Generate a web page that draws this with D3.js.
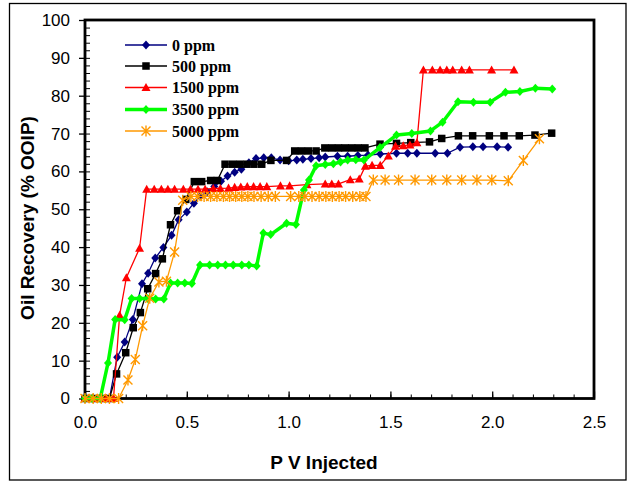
<!DOCTYPE html>
<html>
<head>
<meta charset="utf-8">
<script src="https://cdn.jsdelivr.net/npm/d3@7"></script>
<style>
  html, body { margin: 0; padding: 0; background: #fff; }
  svg { display: block; }
</style>
</head>
<body>
<svg id="chart" width="629" height="483"></svg>
<script>
// Oil recovery vs. pore volumes injected, one series per polymer concentration
const seriesNames = ["0 ppm", "500 ppm", "1500 ppm", "3500 ppm", "5000 ppm"];

const ppm0 = [[0,0],[0.04,0],[0.08,0],[0.12,0],[0.158,10.9],[0.195,14.9],[0.235,20.9],[0.28,30.3],[0.31,33.1],[0.345,37.1],[0.385,39.9],[0.425,43.1],[0.46,47.2],[0.5,49.3],[0.535,51.6],[0.567,53.5],[0.6,54.6],[0.635,56.0],[0.668,57.4],[0.7,58.8],[0.735,59.8],[0.768,60.6],[0.805,62.3],[0.84,63.4],[0.878,63.6],[0.915,63.6],[0.958,63.0],[1.0,62.8],[1.04,63.0],[1.07,63.2],[1.11,63.4],[1.15,63.6],[1.18,63.8],[1.24,64.0],[1.29,64.0],[1.34,64.2],[1.39,64.3],[1.45,64.6],[1.53,64.8],[1.585,64.8],[1.63,64.8],[1.72,64.8],[1.78,64.8],[1.842,66.4],[1.905,66.5],[1.955,66.5],[2.024,66.5],[2.078,66.4]];

const ppm500 = [[0,0],[0.04,0],[0.08,0],[0.12,0],[0.155,6.5],[0.2,12.1],[0.237,18.7],[0.272,22.7],[0.308,29.0],[0.347,33.0],[0.38,36.9],[0.42,45.9],[0.455,49.6],[0.495,52.6],[0.537,57.3],[0.573,57.3],[0.617,57.6],[0.65,57.6],[0.688,61.9],[0.725,61.9],[0.76,61.9],[0.795,61.9],[0.83,61.9],[0.868,61.9],[0.913,62.9],[0.99,62.9],[1.03,65.4],[1.063,65.4],[1.097,65.4],[1.135,65.4],[1.178,66.2],[1.212,66.2],[1.245,66.2],[1.277,66.2],[1.31,66.2],[1.342,66.2],[1.375,66.2],[1.449,67.2],[1.53,67.4],[1.6,67.6],[1.692,67.8],[1.752,68.7],[1.834,69.4],[1.904,69.4],[1.986,69.4],[2.058,69.4],[2.133,69.4],[2.21,69.6],[2.292,70.1]];

const ppm1500 = [[0,0],[0.035,0],[0.07,0],[0.105,0],[0.14,0],[0.17,22.0],[0.203,31.9],[0.268,39.7],[0.303,55.3],[0.34,55.3],[0.375,55.3],[0.407,55.3],[0.44,55.3],[0.483,55.3],[0.518,55.3],[0.555,55.3],[0.59,55.3],[0.63,55.5],[0.665,55.5],[0.705,55.6],[0.735,55.8],[0.765,55.9],[0.797,56.0],[0.828,56.0],[0.86,56.0],[0.893,56.0],[0.96,56.2],[1.005,56.2],[1.09,56.5],[1.18,56.7],[1.212,56.7],[1.245,56.7],[1.303,57.8],[1.347,58.0],[1.377,61.4],[1.41,61.6],[1.45,61.6],[1.49,64.1],[1.525,66.7],[1.563,66.8],[1.596,67.0],[1.63,67.6],[1.662,86.8],[1.706,86.8],[1.744,86.8],[1.777,86.8],[1.806,86.8],[1.85,86.8],[1.888,86.8],[1.997,86.8],[2.107,86.8]];

const ppm3500 = [[0,0],[0.035,0],[0.075,0],[0.113,9.4],[0.148,20.9],[0.195,20.8],[0.229,26.4],[0.268,26.4],[0.308,26.4],[0.347,26.3],[0.387,26.3],[0.42,30.5],[0.455,30.5],[0.49,30.5],[0.525,30.4],[0.565,35.3],[0.612,35.3],[0.652,35.3],[0.69,35.3],[0.728,35.3],[0.77,35.3],[0.805,35.3],[0.843,35.0],[0.876,43.7],[0.912,43.3],[0.99,46.3],[1.036,46.0],[1.075,55.1],[1.1,57.7],[1.135,61.5],[1.18,61.8],[1.22,62.0],[1.255,62.5],[1.29,63.0],[1.33,63.1],[1.37,63.0],[1.449,66.3],[1.53,69.6],[1.605,70.0],[1.697,70.7],[1.756,73.0],[1.832,78.4],[1.908,78.3],[1.99,78.3],[2.065,80.9],[2.136,81.1],[2.212,82.0],[2.295,81.8]];

const ppm5000 = [[0,0],[0.04,0],[0.08,0],[0.12,0],[0.165,0],[0.211,4.9],[0.247,10.3],[0.283,19.2],[0.318,26.5],[0.363,30.8],[0.4,31.0],[0.44,38.7],[0.48,52.4],[0.52,53.4],[0.553,53.4],[0.585,53.4],[0.617,53.4],[0.648,53.4],[0.68,53.4],[0.71,53.4],[0.74,53.4],[0.77,53.4],[0.8,53.4],[0.83,53.4],[0.865,53.4],[0.9,53.4],[0.935,53.4],[1.01,53.4],[1.05,53.4],[1.08,53.4],[1.115,53.4],[1.15,53.4],[1.183,53.4],[1.215,53.4],[1.248,53.4],[1.28,53.4],[1.315,53.4],[1.35,53.4],[1.38,53.4],[1.416,57.7],[1.474,57.7],[1.54,57.7],[1.621,57.7],[1.703,57.7],[1.777,57.7],[1.85,57.7],[1.925,57.7],[1.998,57.7],[2.079,57.5],[2.153,62.9],[2.232,68.6]];

const xTicks = [0, 0.5, 1.0, 1.5, 2.0, 2.5];
const yTicks = [0, 10, 20, 30, 40, 50, 60, 70, 80, 90, 100];

// per-series appearance
const styles = [
  { color: "#000080", width: 1.3, shape: "diamond", size: 8 },
  { color: "#000000", width: 1.3, shape: "square",  size: 7.5 },
  { color: "#ff0000", width: 1.3, shape: "triangle", size: 9 },
  { color: "#00ff00", width: 3.5, shape: "diamond", size: 8 },
  { color: "#ff9900", width: 1.3, shape: "star",    size: 9 }
];
const allSeries = [ppm0, ppm500, ppm1500, ppm3500, ppm5000];

const svg = d3.select("#chart");
const plotLeft = 85, plotRight = 594, plotTop = 20, plotBottom = 398.5;

// outer chart frame
svg.append("rect").attr("x", 9.5).attr("y", 3.5).attr("width", 616.5).attr("height", 476.5)
  .attr("fill", "#fff").attr("stroke", "#000").attr("stroke-width", 1.3);

const x = d3.scaleLinear().domain([0, 2.5]).range([plotLeft, plotRight]);
const y = d3.scaleLinear().domain([0, 100]).range([plotBottom, plotTop]);

// plot area border
svg.append("rect").attr("x", plotLeft).attr("y", plotTop)
  .attr("width", plotRight - plotLeft).attr("height", plotBottom - plotTop)
  .attr("fill", "none").attr("stroke", "#000").attr("stroke-width", 2.8);

const font = "'Liberation Sans', Arial, sans-serif";

// y axis: major ticks outward with labels, minor ticks inward
const yAxis = svg.append("g").attr("transform", `translate(${plotLeft},0)`)
  .call(d3.axisLeft(y).tickValues(yTicks).tickSize(6).tickPadding(9).tickFormat(d3.format("d")));
yAxis.select(".domain").remove();
yAxis.selectAll("line").attr("stroke", "#000").attr("stroke-width", 1.3);
yAxis.selectAll("text").attr("font-family", font).attr("font-size", 17).attr("fill", "#000");

const yMinor = svg.append("g").attr("transform", `translate(${plotLeft},0)`)
  .call(d3.axisRight(y).tickValues(d3.range(0, 101, 2)).tickSize(5).tickFormat(""));
yMinor.select(".domain").remove();
yMinor.selectAll("line").attr("stroke", "#000").attr("stroke-width", 1);

// x axis: ticks inward, minor every 0.1
const xAxis = svg.append("g").attr("transform", `translate(0,${plotBottom})`)
  .call(d3.axisBottom(x).tickValues(xTicks).tickSize(-7).tickPadding(17).tickFormat(d3.format(".1f")));
xAxis.select(".domain").remove();
xAxis.selectAll("line").attr("stroke", "#000").attr("stroke-width", 1.3);
xAxis.selectAll("text").attr("font-family", font).attr("font-size", 17).attr("fill", "#000");

const xMinor = svg.append("g").attr("transform", `translate(0,${plotBottom})`)
  .call(d3.axisBottom(x).tickValues(d3.range(0, 26).map(i => i / 10)).tickSize(-4).tickFormat(""));
xMinor.select(".domain").remove();
xMinor.selectAll("line").attr("stroke", "#000").attr("stroke-width", 1);

// axis titles
svg.append("text").attr("x", 324).attr("y", 469).attr("text-anchor", "middle")
  .attr("font-family", font).attr("font-weight", "bold").attr("font-size", 19)
  .text("P V Injected");
svg.append("text").attr("transform", "translate(34,218) rotate(-90)").attr("text-anchor", "middle")
  .attr("font-family", font).attr("font-weight", "bold").attr("font-size", 19)
  .text("Oil Recovery (% OOIP)");

// marker builder
function marker(g, st) {
  const r = st.size / 2;
  if (st.shape === "star") {
    g.append("path")
      .attr("d", `M${-r},${-r}L${r},${r}M${-r},${r}L${r},${-r}M0,${-r - 1}L0,${r + 1}`)
      .attr("stroke", st.color).attr("stroke-width", 1.4).attr("fill", "none");
  } else if (st.shape === "diamond") {
    g.append("path").attr("d", `M0,${-r - 0.5}L${r},0L0,${r + 0.5}L${-r},0Z`).attr("fill", st.color);
  } else if (st.shape === "square") {
    g.append("rect").attr("x", -r).attr("y", -r).attr("width", 2 * r).attr("height", 2 * r).attr("fill", st.color);
  } else if (st.shape === "triangle") {
    g.append("path").attr("d", `M0,${-r}L${r},${r * 0.8}L${-r},${r * 0.8}Z`).attr("fill", st.color);
  }
}

const line = d3.line().x(d => x(d[0])).y(d => y(d[1]));

allSeries.forEach((data, i) => {
  const st = styles[i];
  const g = svg.append("g");
  g.append("path").datum(data).attr("d", line)
    .attr("fill", "none").attr("stroke", st.color).attr("stroke-width", st.width)
    .attr("stroke-linejoin", "round");
  data.forEach(d => {
    marker(g.append("g").attr("transform", `translate(${x(d[0])},${y(d[1])})`), st);
  });
});

// legend
const legendY = [45, 66, 87.5, 109.5, 131];
seriesNames.forEach((name, i) => {
  const st = styles[i];
  const g = svg.append("g").attr("transform", `translate(0,${legendY[i]})`);
  g.append("line").attr("x1", 125).attr("x2", 167).attr("y1", 0).attr("y2", 0)
    .attr("stroke", st.color).attr("stroke-width", st.width);
  marker(g.append("g").attr("transform", "translate(146,0)"), st);
  g.append("text").attr("x", 172).attr("y", 5.5)
    .attr("font-family", "'Liberation Serif', 'Times New Roman', serif")
    .attr("font-weight", "bold").attr("font-size", 16).text(name);
});
</script>
</body>
</html>
